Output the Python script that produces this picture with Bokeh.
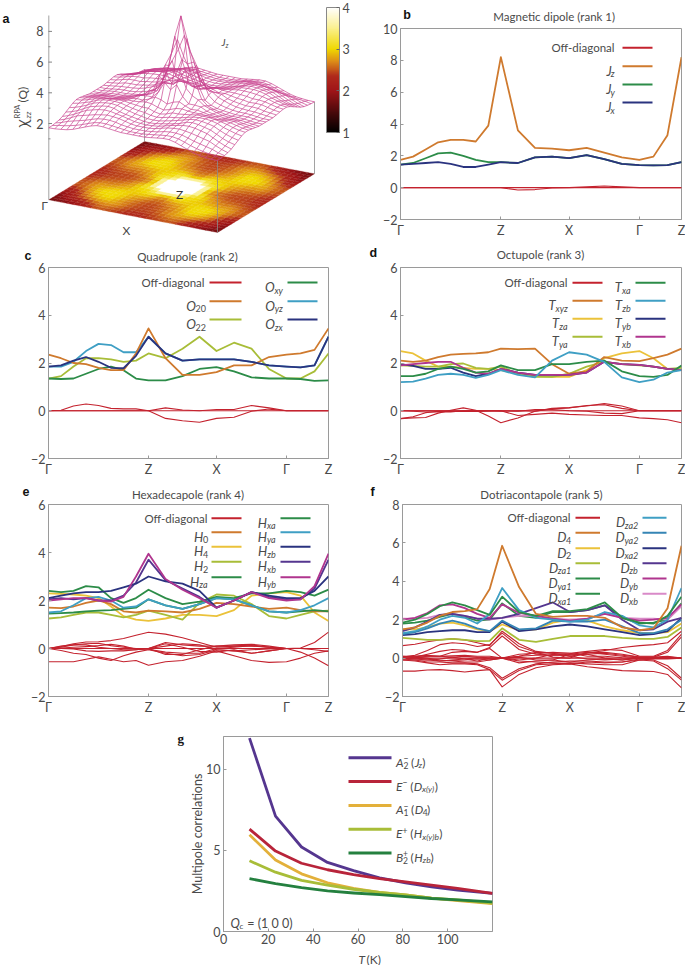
from bokeh.plotting import figure
from bokeh.layouts import column, row
from bokeh.models import Label, Range1d, FixedTicker, ColorBar, LinearColorMapper, Spacer
from bokeh.embed import file_html
from bokeh.resources import INLINE
import numpy as np

# ---------- shared path axis ----------
path_x = [0,12.5,25,37.5,50,62.5,75,87.5,100,117,134,151,168,185.5,203,220.5,238,252,266,280]
path_ticks = [0,100,168,238,280]
path_labels = ["Γ","Z","X","Γ","Z"]

# ---------- panel b ----------
b_off0 = [0]*20
b_off1 = [0,0,0,0,0,0,0,0,0,-.15,-.12,-.02,0,.05,.1,.05,0,0,0,0]
b_Jz = [1.75,1.95,2.4,2.85,3.0,3.0,2.9,3.9,8.2,3.6,2.5,2.45,2.35,2.5,2.2,1.9,1.75,1.95,3.3,8.2]
b_Jy = [1.45,1.55,1.85,2.15,2.2,2.0,1.75,1.6,1.6,1.55,1.9,1.95,1.85,2.05,1.8,1.5,1.42,1.4,1.42,1.6]
b_Jx = [1.45,1.5,1.55,1.6,1.5,1.3,1.3,1.45,1.6,1.55,1.9,1.95,1.85,2.05,1.8,1.5,1.42,1.4,1.42,1.6]

# ---------- panel c ----------
c_off = [[0]*20,
 [0,.02,.2,.28,.22,.1,.08,.08,0,.12,.03,0,.05,.05,.22,.12,0,0,0,0],
 [0,0,0,0,0,0,0,0,0,-.32,-.42,-.48,-.32,-.27,-.02,.07,0,0,0,0]]
c_O20 = [2.35,2.2,2.0,1.95,1.8,1.7,1.7,2.4,3.45,2.2,1.5,1.5,1.62,1.9,1.9,2.25,2.35,2.4,2.55,3.45]
c_O22 = [1.35,1.45,1.85,2.2,2.2,2.15,2.05,2.1,2.4,2.2,2.6,3.1,2.5,2.85,2.6,1.75,1.35,1.35,1.65,2.4]
c_Oxy = [1.35,1.33,1.35,1.55,1.75,1.85,1.7,1.35,1.27,1.27,1.45,1.75,1.83,1.65,1.4,1.35,1.35,1.33,1.25,1.27]
c_Oyz = [1.85,1.85,2.05,2.5,2.8,2.75,2.45,2.45,3.1,2.4,2.1,2.15,2.15,2.15,2.05,1.9,1.85,1.82,1.9,3.1]
c_Ozx = [1.85,1.9,2.1,2.25,2.05,1.8,1.78,2.3,3.1,2.4,2.1,2.15,2.15,2.15,2.05,1.9,1.85,1.82,1.9,3.1]

# ---------- panel d ----------
d_off = [[0]*20,
 [-.33,-.3,-.28,-.1,.02,.12,.02,-.22,-.5,-.3,-.02,.08,.12,.22,.25,.1,0,0,0,0],
 [-.33,-.25,-.08,-.02,-.03,-.03,-.03,-.02,0,-.2,-.15,-.1,-.15,-.18,-.2,-.2,-.3,-.33,-.38,-.5],
 [0,-.02,-.05,-.05,-.05,0,0,0,-.02,0,-.02,.1,.13,.2,.3,.2,0,0,0,0],
 [0,0,0,0,0,0,0,0,0,-.02,.05,.05,0,-.02,-.1,-.12,0,0,0,0]]
d_Txyz = [2.1,2.05,2.1,2.25,2.35,2.38,2.4,2.45,2.6,2.58,2.6,1.95,1.55,1.65,2.25,2.1,2.08,2.2,2.35,2.6]
d_Tza = [2.5,2.4,2.1,1.85,1.85,1.8,1.75,1.75,1.7,1.55,1.45,1.42,1.42,1.7,2.2,2.4,2.5,2.2,1.75,1.7]
d_Tya = [1.9,1.88,1.85,1.85,1.95,1.98,1.8,1.75,1.85,1.55,1.42,1.42,1.55,1.85,2.05,1.95,1.9,1.85,1.75,1.8]
d_Txa = [1.45,1.45,1.55,1.75,1.85,1.75,1.6,1.65,1.9,1.7,1.7,1.95,1.95,2.05,2.1,1.65,1.45,1.42,1.5,1.9]
d_Tzb = [1.2,1.22,1.35,1.5,1.55,1.5,1.38,1.5,1.7,1.5,1.4,2.1,2.45,2.35,2.05,1.4,1.2,1.3,1.6,1.7]
d_Tyb = [1.95,1.88,1.75,1.75,1.8,1.6,1.45,1.55,1.75,1.6,1.5,1.5,1.5,1.6,2.05,1.95,1.92,1.85,1.75,1.7]
d_Txb = [1.9,1.95,2.0,2.05,2.05,1.8,1.6,1.55,1.75,1.6,1.5,1.5,1.5,1.6,2.05,1.95,1.92,1.85,1.75,1.7]

# ---------- panel e ----------
e_off = [[0]*20,
 [0,.08,.2,.27,.28,.33,.42,.55,.68,.6,.45,.25,.05,.1,.15,.05,0,.02,.25,.68],
 [-.55,-.55,-.55,-.45,-.35,-.45,-.55,-.5,-.7,-.55,-.5,-.32,-.1,-.3,-.5,-.58,-.55,-.4,-.2,-.1],
 [0,-.08,-.2,-.25,-.4,-.5,-.3,-.15,-.05,-.2,-.3,-.25,-.05,-.1,-.2,-.1,0,-.15,-.4,-.72],
 [0,.05,.15,.2,.22,.12,.05,0,0,.25,.15,.1,.1,.15,.18,.1,0,0,0,0],
 [0,.1,.15,.15,.05,0,-.05,-.05,0,-.25,-.25,-.05,.1,.1,.1,.05,0,0,0,0],
 [0,0,-.02,-.1,-.12,-.1,-.1,-.05,0,.2,.05,-.12,-.15,-.05,-.2,-.1,0,0,0,0],
 [0,.02,.05,.08,.12,.18,.1,-.03,-.03,-.15,-.2,-.2,0,.05,.12,.05,0,0,0,0],
 [0,0,0,0,0,0,0,0,0,.1,.2,.15,-.05,-.1,-.05,-.02,0,0,-.05,-.12]]
e_H0 = [1.7,1.68,1.75,1.9,2.0,1.85,1.55,1.5,1.58,1.55,1.5,1.65,1.9,1.85,1.75,1.65,1.7,1.6,1.55,1.55]
e_H4 = [2.3,2.28,2.25,2.2,2.1,1.75,1.35,1.2,1.15,1.25,1.4,1.4,1.35,1.6,2.2,2.3,2.35,2.2,1.5,1.15]
e_H2 = [1.25,1.3,1.4,1.5,1.5,1.4,1.3,1.4,1.58,1.4,1.2,1.9,2.25,2.2,1.85,1.35,1.25,1.4,1.55,1.58]
e_Hza = [2.4,2.35,2.4,2.6,2.55,2.1,1.9,2.1,2.45,2.1,1.85,1.95,2.15,2.1,2.3,2.3,2.4,2.35,2.2,2.45]
e_Hxa = [1.45,1.47,1.5,1.55,1.58,1.6,1.65,1.7,2.05,1.8,1.65,1.85,2.1,2.05,1.8,1.55,1.5,1.55,1.6,1.55]
e_Hya = [1.5,1.55,1.8,2.1,2.15,2.0,1.7,1.75,2.05,1.8,1.65,1.85,2.1,2.05,1.8,1.55,1.5,1.6,1.8,2.1]
e_Hzb = [2.1,2.2,2.3,2.35,2.35,2.4,2.55,2.7,3.0,2.8,2.7,2.4,1.7,2.0,2.35,2.2,2.1,2.1,2.4,3.0]
e_Hxb = [2.05,2.1,2.05,2.1,2.0,2.0,2.2,2.75,3.7,2.85,2.5,2.15,1.7,2.0,2.35,2.15,2.05,2.05,2.5,3.7]
e_Hyb = [2.0,2.05,2.1,2.1,2.0,1.95,2.15,3.0,3.95,2.9,2.45,2.1,1.7,2.0,2.35,2.1,2.0,2.05,2.6,3.95]

# ---------- panel f ----------
f_off = [[0]*20,
 [.65,.72,.85,.95,1.0,.95,.8,.65,1.4,.75,.35,.25,.1,.25,.4,.55,.65,.7,.8,1.4],
 [.05,.15,.4,.7,.8,.75,.6,.7,1.3,.6,.3,.25,.25,.35,.45,.4,.1,.1,.4,1.25],
 [-.05,.05,.2,.35,.45,.4,.3,.55,1.15,.45,.2,.15,.2,.3,.3,.2,.05,.05,.3,1.1],
 [.1,.1,.1,.1,.3,.35,.3,.5,0,.1,.15,.15,.15,.2,.25,.15,.05,.05,.1,0],
 [-.68,-.68,-.62,-.6,-.65,-.72,-.65,-.6,-1.5,-.85,-.5,-.35,-.3,-.45,-.55,-.65,-.68,-.7,-.85,-1.55],
 [-.1,-.15,-.25,-.35,-.3,-.3,-.35,-.6,-1.15,-.65,-.35,-.3,-.25,-.3,-.35,-.35,-.1,-.15,-.55,-1.15],
 [-.05,-.1,-.2,-.2,-.25,-.25,-.3,-.5,-1.05,-.55,-.3,-.2,-.15,-.15,-.2,-.2,-.05,-.1,-.4,-1.05],
 [.1,.05,0,-.1,-.15,-.2,-.2,-.1,0,-.25,-.15,-.1,-.2,-.1,-.05,-.1,.02,.02,.05,0],
 [.05,.1,.15,.1,.05,-.05,-.15,0,0,.2,.25,.3,.25,.1,.1,.02,0,0,0,0],
 [0,.02,.1,.1,.12,.15,.1,.1,0,.1,.3,.05,0,.3,.2,.1,0,0,0,0],
 [0,-.05,-.1,-.05,.05,.1,.05,.02,0,-.1,0,.2,.1,-.05,-.1,-.05,0,0,0,0],
 [0,0,-.05,-.15,-.1,-.05,.02,-.05,0,.05,-.1,-.1,.2,.2,0,-.1,-.02,0,0,0],
 [-.1,-.1,-.1,-.15,-.12,-.1,-.05,-.1,0,-.15,-.2,-.25,-.3,-.2,-.25,-.2,-.1,-.05,-.05,0]]
f_D4 = [1.5,1.6,1.85,2.2,2.4,2.45,2.55,3.6,5.85,3.7,2.3,2.15,2.2,2.2,2.1,1.6,1.45,1.55,2.6,5.85]
f_D2 = [1.5,1.5,1.6,1.8,1.85,1.7,1.5,1.4,1.75,1.45,1.5,1.85,2.0,1.95,1.65,1.45,1.3,1.3,1.35,1.8]
f_Dza1 = [1.05,1.0,.95,.95,1.0,.95,.88,.9,1.55,.95,.85,1.0,1.15,1.15,1.15,1.05,1.0,1.0,1.1,1.6]
f_Dya1 = [1.8,1.85,1.95,2.15,2.3,2.15,1.95,2.0,2.85,2.2,2.1,2.4,2.4,2.5,2.75,2.1,1.8,1.85,2.0,2.85]
f_Dxa1 = [1.85,2.0,2.3,2.7,2.9,2.75,2.5,2.25,3.2,2.4,2.2,2.45,2.45,2.55,2.9,2.1,1.85,1.8,2.2,3.2]
f_Dza2 = [1.3,1.4,1.65,2.0,2.2,2.1,1.8,2.3,3.65,2.5,2.1,2.0,1.9,2.0,2.4,2.2,1.7,1.6,2.0,3.65]
f_Dya2 = [1.25,1.35,1.55,1.8,1.95,1.8,1.55,1.4,1.95,1.5,1.55,1.95,1.9,1.9,2.0,1.65,1.3,1.3,1.5,2.0]
f_Dxa2 = [1.2,1.25,1.35,1.4,1.45,1.45,1.35,1.35,1.9,1.4,1.5,1.65,1.75,1.65,1.5,1.35,1.2,1.25,1.4,2.1]
f_Dzb = [1.4,1.6,1.9,2.25,2.3,2.2,2.05,2.05,2.1,2.3,2.6,2.9,2.4,2.5,2.75,2.0,1.45,1.5,1.9,2.1]
f_Dyb = [2.0,2.1,2.35,2.75,2.8,2.6,2.3,2.1,2.8,2.35,2.2,2.05,1.95,2.05,2.3,2.1,1.95,2.0,2.1,2.8]
f_Dxb = [2.05,2.05,2.1,2.25,2.3,2.2,2.05,2.0,2.1,2.2,2.2,2.05,2.0,2.05,2.35,2.1,2.05,2.05,2.0,2.7]

# ---------- panel g ----------
g_T = [11.6,23.2,34.8,46.4,58,69.6,81.2,92.8,104.4,120]
g_A2 = [11.9,7.1,5.2,4.25,3.75,3.3,3.0,2.75,2.55,2.35]
g_E_minus = [6.3,4.95,4.2,3.8,3.5,3.25,3.05,2.85,2.65,2.35]
g_A1 = [5.95,4.4,3.55,3.0,2.65,2.4,2.25,2.05,1.9,1.72]
g_E_plus = [4.35,3.65,3.15,2.85,2.6,2.4,2.25,2.05,1.95,1.75]
g_B2 = [3.25,2.95,2.7,2.5,2.37,2.27,2.15,2.03,1.95,1.82]

# ---------- panel a: chi(Q) on one quarter of the zone, Γ corner to Z centre ----------
a_quarter = [
 [1.75,1.76,1.80,1.85,1.95,2.10,2.25,2.40,2.50,2.50,2.45,2.40,2.35,2.35,2.35],
 [1.76,1.85,1.90,1.98,2.08,2.20,2.35,2.48,2.55,2.55,2.50,2.45,2.40,2.35,2.35],
 [1.80,1.90,2.05,2.15,2.25,2.35,2.48,2.60,2.65,2.65,2.60,2.50,2.45,2.40,2.40],
 [1.85,1.98,2.15,2.35,2.45,2.55,2.65,2.72,2.78,2.75,2.70,2.60,2.50,2.45,2.45],
 [1.95,2.08,2.25,2.45,2.65,2.75,2.85,2.90,2.88,2.80,2.72,2.62,2.52,2.48,2.45],
 [2.10,2.20,2.35,2.55,2.75,2.85,2.95,3.00,2.95,2.80,2.70,2.62,2.55,2.48,2.45],
 [2.25,2.35,2.48,2.65,2.85,2.95,3.02,3.05,3.00,2.88,2.78,2.68,2.60,2.52,2.50],
 [2.40,2.48,2.60,2.72,2.90,3.00,3.05,3.05,3.02,2.92,2.82,2.75,2.70,2.60,2.55],
 [2.50,2.55,2.65,2.78,2.90,2.98,3.00,3.02,3.02,2.95,2.90,2.85,2.85,2.70,2.62],
 [2.50,2.55,2.65,2.75,2.85,2.90,2.95,2.95,2.95,2.95,2.98,3.05,3.00,2.85,2.75],
 [2.45,2.50,2.60,2.70,2.75,2.80,2.85,2.90,2.95,3.00,2.95,3.10,3.30,3.20,3.00],
 [2.40,2.45,2.50,2.60,2.65,2.70,2.75,2.85,3.00,3.10,3.10,3.10,3.50,4.20,3.80],
 [2.35,2.40,2.45,2.50,2.55,2.60,2.65,2.80,3.00,3.20,3.30,3.50,3.90,5.00,4.80],
 [2.35,2.35,2.40,2.45,2.50,2.50,2.55,2.70,2.90,3.10,3.60,4.20,5.00,5.80,6.80],
 [2.35,2.35,2.40,2.45,2.45,2.45,2.50,2.60,2.70,2.90,3.20,3.80,4.80,6.80,8.20]]
a_ticks = [8,6,4,2]
a_minor = [7,5,3,1]
cbar_ticks = [1,2,3,4]
cbar_stops = [(1,"#000000"),(1.5,"#4d0a0c"),(2.0,"#a01518"),(2.35,"#b02a1c"),(2.7,"#dc8a18"),(3.0,"#f0d800"),(3.5,"#faf08c"),(4,"#ffffff")]

OFF="#c4222e"; ORG="#cf7a2e"; YEL="#ebc23a"; YGR="#a8bd38"; GRN="#2c8c48"; LBL="#3f9fc4"; MBL="#3585b5"; NVY="#2a337f"; PUR="#55368f"; MAG="#b0358e"; PNK="#d98ac8"
FONT="Lato"; TXT="#4a4a4a"; AXC="#9a9a9a"

W={'i':.24,'l':.24,'j':.24,'t':.33,'f':.3,'r':.35,' ':.28,'(':.3,')':.3,'-':.3,'.':.22,'O':.72,'D':.68,'H':.7,'T':.55,'J':.33,'A':.62,'E':.55,'B':.58,'Q':.72,'−':.5,'=':.55,'x':.45,'y':.45,'z':.42}
def twidth(s,size): return sum(W.get(c,.5) for c in s)*size

class Panel:
    """A figure whose frame is known in page pixels."""
    def __init__(self, fx, fy, fw, fh, L, R, T, B, xr, yr, margin=0):
        self.L,self.R,self.T,self.B,self.xr,self.yr=L,R,T,B,xr,yr
        self.p=figure(width=fw,height=fh,x_range=Range1d(*xr),y_range=Range1d(*yr),
                      min_border_left=L-fx,min_border_right=fx+fw-R,min_border_top=T-fy,min_border_bottom=fy+fh-B,
                      output_backend="svg",toolbar_location=None,tools="",background_fill_color=None,border_fill_color=None,
                      margin=margin)
        self.p.grid.visible=False
        self.p.outline_line_color=AXC
    def dx(self,px): return self.xr[0]+(px-self.L)/(self.R-self.L)*(self.xr[1]-self.xr[0])
    def dy(self,py): return self.yr[0]+(self.B-py)/(self.B-self.T)*(self.yr[1]-self.yr[0])
    def text(self,px,py,s,size=11,style="normal",font=FONT,color=TXT,align="left",base="alphabetic",angle=0):
        self.p.add_layout(Label(x=self.dx(px),y=self.dy(py),text=s,text_font=font,text_font_size=f"{size}px",
                text_font_style=style,text_color=color,text_align=align,text_baseline=base,angle=angle,angle_units="deg"))
    def rich(self,px,py,parts,align="left"):
        total=sum(twidth(t,s) for t,s,st,d,*adv in parts if (adv[0] if adv else True))
        x=px-total if align=="right" else px
        for t,s,st,d,*adv in parts:
            lead=len(t)-len(t.lstrip(" "))
            self.text(x+lead*W[' ']*s,py+d,t.lstrip(" "),size=s,style=st)
            if (adv[0] if adv else True): x+=twidth(t,s)
    def key(self,x0,x1,py,color,width=2):
        self.p.line([self.dx(x0),self.dx(x1)],[self.dy(py)]*2,line_color=color,line_width=width)

def strip(fx,fy,fw,fh,margin=0):
    S=Panel(fx,fy,fw,fh,fx,fx+fw,fy,fy+fh,(0,fw),(fh,0),margin=margin)
    S.p.outline_line_color=None; S.p.xaxis.visible=False; S.p.yaxis.visible=False
    return S

def sub_parts(main,sub,ms=13,ss=9):
    st="normal" if sub.isdigit() else "italic"
    return [(main,ms,"italic",0),(sub,ss,st,3)]

def style_axes(p,xt=None,xl=None,yt=None,size=12.5):
    for ax in (p.xaxis[0],p.yaxis[0]):
        ax.axis_line_color=AXC; ax.major_tick_line_color=AXC; ax.minor_tick_line_color=None
        ax.major_tick_in=3; ax.major_tick_out=0; ax.major_label_text_font=FONT
        ax.major_label_text_font_size=f"{size}px"; ax.major_label_text_color=TXT; ax.major_label_standoff=3
    p.xaxis[0].ticker=FixedTicker(ticks=xt); p.yaxis[0].ticker=FixedTicker(ticks=yt)
    if xl: p.xaxis[0].major_label_overrides=dict(zip(xt,xl))
    p.yaxis[0].major_label_overrides={v:(f"−{-v}" if v<0 else str(v)) for v in yt}

OV=9   # a plot's top border reaches up over the strip above it, for its highest tick label
def band_panel(S,fx,fw,ybot,L,R,B,yr,yt,title,tx,ty,letter,lx,ly,off,curves,legend):
    T=S.B
    P=Panel(fx,T-OV,fw,ybot-(T-OV),L,R,T,B,(0,280),yr,margin=(-OV,0,0,0))
    style_axes(P.p,path_ticks,path_labels,yt)
    for o in off:
        P.p.line(path_x,o,line_color=OFF,line_width=1.1,line_join="round")
    for vals,c in curves:
        P.p.line(path_x,vals,line_color=c,line_width=1.8,line_join="round")
    S.text(tx,ty,title,size=11.5,align="center",base="middle")
    S.text(lx,ly,letter,size=12.5,style="bold",font="Liberation Sans",color="#111111",base="middle")
    for (rx,kx0,kx1,py,lab,c) in legend:
        if isinstance(lab,str):
            P.text(rx,py,lab,size=11.5,align="right",base="middle")
        else:
            P.rich(rx,py+4.5,sub_parts(*lab),align="right")
        P.key(kx0,kx1,py,c)
    return P.p

# panel a ------------------------------------------------------------
CORN=np.array([[48.3,199.3],[144,141],[314,173.3],[217,232]],float)
def homography(c):
    A=[];bb=[]
    for (u,v),(x,y) in zip([(0,0),(1,0),(1,1),(0,1)],c):
        A.append([u,v,1,0,0,0,-u*x,-v*x]);bb.append(x)
        A.append([0,0,0,u,v,1,-u*y,-v*y]);bb.append(y)
    h=np.linalg.solve(np.array(A),np.array(bb))
    return np.append(h,1).reshape(3,3)
H=homography(CORN)
def floor(u,v):
    w=H[2,0]*u+H[2,1]*v+1
    return (H[0,0]*u+H[0,1]*v+H[0,2])/w,(H[1,0]*u+H[1,1]*v+H[1,2])/w
Z_SCALE=15.35; Z_FLOOR=-2.94
q=np.array(a_quarter)
for i in range(15):
    for j in range(i):
        q[i,j]=q[j,i]
grid=np.zeros((29,29))
for i in range(29):
    for j in range(29):
        grid[i,j]=q[min(i,28-i),min(j,28-j)]
def make_palette(n=256):
    vs=[s[0] for s in cbar_stops]
    rgb=np.array([[int(s[1][k:k+2],16) for k in (1,3,5)] for s in cbar_stops],float)
    out=[]
    for t in np.linspace(1,4,n):
        out.append("#%02x%02x%02x"%tuple(int(round(np.interp(t,vs,rgb[:,k]))) for k in range(3)))
    return out
PAL=make_palette()

pa=strip(0,0,365,240)
xs=[];ys=[];cols=[]
N=28
for i in range(N):
    for j in range(N):
        us=[i/N,(i+1)/N,(i+1)/N,i/N]; vs_=[j/N,j/N,(j+1)/N,(j+1)/N]
        pts=[floor(u,v) for u,v in zip(us,vs_)]
        xs.append([a for a,b in pts]); ys.append([b for a,b in pts])
        val=grid[i:i+2,j:j+2].mean()
        cols.append(PAL[int(np.clip((val-1)/3,0,1)*255)])
pa.p.patches(xs,ys,fill_color=cols,line_color=cols,line_width=.3)
Zpx=lambda fy,z: fy-(z-Z_FLOOR)*Z_SCALE
for (cx,cy),top in zip(CORN,[15,Zpx(141,1.75),Zpx(173.3,1.75),Zpx(232,1.75)]):
    pa.p.line([cx,cx],[cy,top],line_color="#8a8a8a",line_width=.8)
mx=[];my=[]
for i in range(29):
    a=[floor(i/N,j/N) for j in range(29)]
    mx.append([t[0] for t in a]); my.append([Zpx(a[j][1],grid[i,j]) for j in range(29)])
    a=[floor(j/N,i/N) for j in range(29)]
    mx.append([t[0] for t in a]); my.append([Zpx(a[j][1],grid[j,i]) for j in range(29)])
pa.p.multi_line(mx,my,line_color="#c9448f",line_width=.7)
ax0=48.0
for v in a_ticks:
    y=123-(v-2)*15.35
    pa.p.line([ax0,ax0+3.5],[y,y],line_color="#666666",line_width=.8)
    pa.text(ax0-5,y,str(v),size=12.5,align="right",base="middle")
for v in a_minor:
    y=123-(v-2)*15.35
    pa.p.line([ax0,ax0+2],[y,y],line_color="#666666",line_width=.7)
pa.text(21,123,"χ",size=14,base="middle",align="center",angle=90,font="Noto Sans")
pa.text(17,118,"RPA",size=7.5,base="middle",align="left",angle=90)
pa.text(27,118,"zz",size=8,style="italic",base="middle",align="left",angle=90)
pa.text(22,102,"(Q)",size=12,base="middle",align="left",angle=90)
pa.text(2,18,"a",size=12.5,style="bold",font="Liberation Sans",color="#111111",base="middle")
pa.text(221,41,"J",size=10,style="italic",base="middle")
pa.text(225,44,"z",size=7,style="italic",base="middle")
pa.text(44,205,"Γ",size=12,align="center",base="middle")
pa.text(126,230,"X",size=12,align="center",base="middle")
pa.text(179,194,"Z",size=12,align="center",base="middle",color="#333333")
cb=ColorBar(color_mapper=LinearColorMapper(palette=PAL,low=1,high=4),ticker=FixedTicker(ticks=cbar_ticks),
            width=13,height=125,location=(326,108),padding=0,margin=0,bar_line_color="#888888",
            major_tick_line_color="#666666",major_tick_in=3,major_tick_out=0,minor_tick_line_color=None,
            major_label_text_font=FONT,major_label_text_font_size="12.5px",major_label_text_color=TXT,label_standoff=3,
            background_fill_color=None,border_line_color=None)
pa.p.add_layout(cb)

# other panels -------------------------------------------------------
sb=strip(365,0,320,28)
pb=band_panel(sb,365,320,240,400,681,219,(-2,10),[-2,0,2,4,6,8,10],"Magnetic dipole (rank 1)",540,16,"b",368,14,
  [b_off0,b_off1],[(b_Jy,GRN),(b_Jx,NVY),(b_Jz,ORG)],
  [(614,622,652,47.3,"Off-diagonal",OFF),(614,622,652,65.7,("J","z"),ORG),(614,622,652,84,("J","y"),GRN),(614,622,652,102,("J","x"),NVY)])

s2=strip(0,240,685,27)
r2=(282,300.7,319)
pc=band_panel(s2,0,345,480,48,328,458,(-2,6),[-2,0,2,4,6],"Quadrupole (rank 2)",187,256,"c",24,255,
  c_off,[(c_Oyz,LBL),(c_O22,YGR),(c_Oxy,GRN),(c_O20,ORG),(c_Ozx,NVY)],
  [(204,209,241,r2[0],"Off-diagonal",OFF),(204,209,241,r2[1],("O","20"),ORG),(204,209,241,r2[2],("O","22"),YGR),
   (282,287,317,r2[0],("O","xy"),GRN),(282,287,317,r2[1],("O","yz"),LBL),(282,287,317,r2[2],("O","zx"),NVY)])

r3=(282.3,300.3,318.3,336.3)
pd_=band_panel(s2,345,340,480,400,681,458,(-2,6),[-2,0,2,4,6],"Octupole (rank 3)",540,254,"d",369,252,
  d_off,[(d_Tza,YEL),(d_Tya,YGR),(d_Txyz,ORG),(d_Tyb,NVY),(d_Txb,MAG),(d_Txa,GRN),(d_Tzb,LBL)],
  [(567,572,602,r3[0],"Off-diagonal",OFF),(567,572,602,r3[1],("T","xyz"),ORG),(567,572,602,r3[2],("T","za"),YEL),(567,572,602,r3[3],("T","ya"),YGR),
   (630,635,665,r3[0],("T","xa"),GRN),(630,635,665,r3[1],("T","zb"),LBL),(630,635,665,r3[2],("T","yb"),NVY),(630,635,665,r3[3],("T","xb"),MAG)])

s3=strip(0,480,685,24)
r4=(517.7,531.7,546.3,561.3,576.7)
pe=band_panel(s3,0,345,720,48,328,696,(-2,6),[-2,0,2,4,6],"Hexadecapole (rank 4)",187.5,494,"e",22,491,
  e_off,[(e_H4,YEL),(e_H2,YGR),(e_H0,ORG),(e_Hxa,GRN),(e_Hza,GRN),(e_Hya,LBL),(e_Hxb,PUR),(e_Hzb,NVY),(e_Hyb,MAG)],
  [(207,211,241,r4[0],"Off-diagonal",OFF),(207,211,241,r4[1],("H","0"),ORG),(207,211,241,r4[2],("H","4"),YEL),(207,211,241,r4[3],("H","2"),YGR),(207,211,241,r4[4],("H","za"),GRN),
   (275,280,310,r4[0],("H","xa"),GRN),(275,280,310,r4[1],("H","ya"),LBL),(275,280,310,r4[2],("H","zb"),NVY),(275,280,310,r4[3],("H","xb"),PUR),(275,280,310,r4[4],("H","yb"),MAG)])

r5=(517.3,532.3,547.7,562.7,578,593.3)
pf=band_panel(s3,345,340,720,402,681,696,(-2,8),[-2,0,2,4,6,8],"Dotriacontapole (rank 5)",541,494,"f",370,491,
  f_off,[(f_Dza1,YGR),(f_D2,YEL),(f_Dxa2,NVY),(f_Dya2,MBL),(f_Dya1,GRN),(f_Dxb,PNK),(f_Dzb,PUR),(f_Dyb,MAG),(f_Dza2,LBL),(f_Dxa1,GRN),(f_D4,ORG)],
  [(570,575,599.5,r5[0],"Off-diagonal",OFF),(570,575,599.5,r5[1],("D","4"),ORG),(570,575,599.5,r5[2],("D","2"),YEL),(570,575,599.5,r5[3],("D","za1"),YGR),(570,575,599.5,r5[4],("D","ya1"),GRN),(570,575,599.5,r5[5],("D","xa1"),GRN),
   (637,642,666,r5[0],("D","za2"),LBL),(637,642,666,r5[1],("D","ya2"),MBL),(637,642,666,r5[2],("D","xa2"),NVY),(637,642,666,r5[3],("D","zb"),PUR),(637,642,666,r5[4],("D","yb"),MAG),(637,642,666,r5[5],("D","xb"),PNK)])

# panel g
gl=strip(160,720,30,245)
gl.text(177,738,"g",size=13,style="bold",font="Liberation Serif",color="#111111",base="middle")
Pg=Panel(179,720,331,226,223,492,736,932,(0,120),(0,12))
style_axes(Pg.p,[0,20,40,60,80,100],None,[0,5,10],size=12.5)
Pg.p.xaxis[0].major_label_standoff=2
Pg.p.yaxis[0].axis_label="Multipole correlations"
Pg.p.yaxis[0].axis_label_text_font=FONT; Pg.p.yaxis[0].axis_label_text_font_style="normal"
Pg.p.yaxis[0].axis_label_text_font_size="12.5px"; Pg.p.yaxis[0].axis_label_text_color=TXT; Pg.p.yaxis[0].axis_label_standoff=-2
for vals,c in [(g_A2,PUR),(g_E_minus,"#b8243a"),(g_A1,"#e3b03a"),(g_E_plus,YGR),(g_B2,"#24803f")]:
    Pg.p.line(g_T,vals,line_color=c,line_width=2.8,line_join="round")
rows_g=[757.3,781.3,805.3,829.3,853]
keys_g=[PUR,"#b8243a","#e3b03a",YGR,"#24803f"]
labs_g=[
 [("A",12,"italic",0),("2",8.5,"normal",3,False),("−",8.5,"normal",-3.5),(" (",12,"normal",0),("J",12,"italic",0),("z",8.5,"italic",3),(")",12,"normal",0)],
 [("E",12,"italic",0),("−",8.5,"normal",-3.5),(" (",12,"normal",0),("D",12,"italic",0),("x(y)",8.5,"italic",3),(")",12,"normal",0)],
 [("A",12,"italic",0),("1",8.5,"normal",3,False),("−",8.5,"normal",-3.5),(" (",12,"normal",0),("D",12,"italic",0),("4",8.5,"normal",3),(")",12,"normal",0)],
 [("E",12,"italic",0),("+",8.5,"normal",-3.5),(" (",12,"normal",0),("H",12,"italic",0),("x(y)b",8.5,"italic",3),(")",12,"normal",0)],
 [("B",12,"italic",0),("2",8.5,"normal",3,False),("+",8.5,"normal",-3.5),(" (",12,"normal",0),("H",12,"italic",0),("zb",8.5,"italic",3),(")",12,"normal",0)],
]
for py,c,parts in zip(rows_g,keys_g,labs_g):
    Pg.key(348,391,py,c,width=3)
    Pg.rich(395.5,py+4.5,parts)
Pg.rich(230,923.5,[("Q",12.5,"italic",0),("c",8.5,"italic",3),(" = (1 0 0)",12.5,"normal",0)])
sg=strip(179,946,331,19)
sg.rich(345,959,[("T",12,"italic",0),(" (K)",12,"normal",0)])

root=column(row(pa.p,column(sb.p,pb,spacing=0),spacing=0),
            s2.p,row(pc,pd_,spacing=0),
            s3.p,row(pe,pf,spacing=0),
            row(Spacer(width=160,height=245),gl.p,column(Pg.p,sg.p,spacing=0,margin=(0,0,0,-11)),spacing=0),spacing=0)
open("out.html","w").write(file_html(root,INLINE))
